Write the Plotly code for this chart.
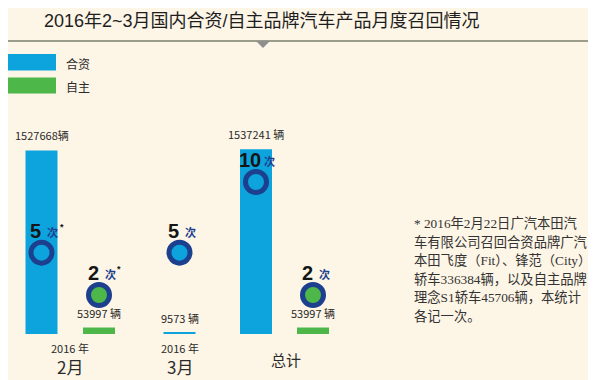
import plotly.graph_objects as go

# ---------------- data ----------------
periods = ["2月", "3月", "总计"]
period_years = ["2016 年", "2016 年", ""]
jv_units = [1527668, 9573, 1537241]          # 合资 recalled vehicles
own_units = [53997, None, 53997]             # 自主 recalled vehicles
jv_counts = [5, 5, 10]                       # 合资 recall counts (次)
own_counts = [2, None, 2]                    # 自主 recall counts (次)
jv_unit_labels = ["1527668辆", "9573 辆", "1537241 辆"]
own_unit_labels = ["53997 辆", None, "53997 辆"]
count_star = [True, False, False]            # footnote marker on Feb counts
legend_names = ["合资", "自主"]
title = "2016年2~3月国内合资/自主品牌汽车产品月度召回情况"
footnote = [
    "* 2016年2月22日广汽本田汽",
    "车有限公司召回合资品牌广汽",
    "本田飞度（Fit）、锋范（City）",
    "轿车336384辆，以及自主品牌",
    "理念S1轿车45706辆，本统计",
    "各记一次。",
]

# ---------------- layout config (positions / styles) ----------------
W, H = 596, 380
OFF = 8            # page body margin: figure drawn 8px in from the window corner
BG = "#FDF5E6"
BLUE = "#0DA3DD"
GREEN = "#4DB74A"
NAVY = "#1C3F8E"
TXT = "#2A2A2A"
CJK = "Noto Sans CJK SC"
jv_x = [41.5, 179.5, 256]
own_x = [99, None, 313]
group_x = [70, 180, 286]
BAR_W = 32
BASE_PX = 334


def py(p):
    """window pixel row -> paper y"""
    return 1 - (p - OFF) / H


fig = go.Figure()

# bars
fig.add_trace(go.Bar(x=jv_x, y=jv_units, width=BAR_W, marker=dict(color=BLUE, line_width=0),
                     name=legend_names[0], hoverinfo="skip"))
ox = [x for x, v in zip(own_x, own_units) if v is not None]
ov = [v for v in own_units if v is not None]
fig.add_trace(go.Bar(x=ox, y=ov, width=BAR_W, marker=dict(color=GREEN, line_width=0),
                     name=legend_names[1], hoverinfo="skip"))

# count circles (secondary axis encodes recall counts)
fig.add_trace(go.Scatter(x=jv_x, y=jv_counts, yaxis="y2", mode="markers",
                         marker=dict(size=21, color=BLUE, line=dict(color=NAVY, width=5)),
                         cliponaxis=False, hoverinfo="skip"))
oc = [c for c in own_counts if c is not None]
ocx = [x for x, c in zip(own_x, own_counts) if c is not None]
fig.add_trace(go.Scatter(x=ocx, y=oc, yaxis="y2", mode="markers",
                         marker=dict(size=21, color=GREEN, line=dict(color=NAVY, width=5)),
                         cliponaxis=False, hoverinfo="skip"))

ann = []


def txt(x, y, t, size, family=CJK, color=TXT, xanchor="center"):
    ann.append(dict(x=x, xref="x", y=py(y), yref="paper", text=t, showarrow=False,
                    xanchor=xanchor, yanchor="middle", font=dict(family=family, size=size, color=color)))


# title
txt(262, 21, title, 18, family="Liberation Sans, " + CJK, color="#1E1E1E")


def unit_label(x, v, t):
    ann.append(dict(x=x, y=v, xref="x", yref="y", text=t, showarrow=False, xanchor="center",
                    yanchor="bottom", yshift=5, font=dict(family=CJK, size=11, color=TXT)))


def count_label(x, c, star):
    ann.append(dict(x=x, y=c, xref="x", yref="y2", text="<b>%d</b>" % c, showarrow=False,
                    xanchor="center", yanchor="middle",
                    xshift=-6, yshift=22, font=dict(family="Liberation Sans", size=20, color="#151515")))
    ann.append(dict(x=x, y=c, xref="x", yref="y2", text="<b>次</b>", showarrow=False,
                    xanchor="center", yanchor="middle",
                    xshift=(13 if c >= 10 else 11), yshift=21,
                    font=dict(family=CJK, size=11, color=NAVY)))
    if star:
        ann.append(dict(x=x, y=c, xref="x", yref="y2", text="<b>*</b>", showarrow=False,
                        xanchor="center", yanchor="middle",
                        xshift=20, yshift=26, font=dict(family="Liberation Sans", size=9, color="#151515")))


for i in range(len(periods)):
    unit_label(jv_x[i], jv_units[i], jv_unit_labels[i])
    count_label(jv_x[i], jv_counts[i], count_star[i])
    if own_units[i] is not None:
        unit_label(own_x[i], own_units[i], own_unit_labels[i])
    if own_counts[i] is not None:
        count_label(own_x[i], own_counts[i], count_star[i])
    if period_years[i]:
        txt(group_x[i], 348, period_years[i], 11)
        txt(group_x[i], 366, periods[i], 17)
    else:
        txt(group_x[i], 359, periods[i], 15)

# legend texts
txt(64, 63, legend_names[0], 12, xanchor="left")
txt(64, 86.5, legend_names[1], 12, xanchor="left")

# footnote
for k, line in enumerate(footnote):
    txt(412, 223 + k * 18.6, line, 13.3, family="Liberation Serif, " + CJK, color="#333333", xanchor="left")

shapes = [
    dict(type="line", xref="x", yref="paper", x0=5, x1=590, y0=py(41), y1=py(41),
         line=dict(color="#9C9C8B", width=2)),
    dict(type="path", xref="x", yref="paper",
         path="M 256 %f L 270 %f L 263 %f Z" % (py(41), py(41), py(48)),
         fillcolor="#8F8F8F", line=dict(width=0)),
    dict(type="rect", xref="x", yref="paper", x0=7, x1=56, y0=py(54), y1=py(70.5),
         fillcolor=BLUE, line=dict(width=0)),
    dict(type="rect", xref="x", yref="paper", x0=7, x1=56, y0=py(77.5), y1=py(93.5),
         fillcolor=GREEN, line=dict(width=0)),
]

# plot area: top at window row OFF, bottom (value 0) at window row BASE_PX
dom_bottom = (H - (BASE_PX - OFF)) / H
fig.update_layout(
    width=W, height=H, margin=dict(l=0, r=0, t=0, b=0),
    paper_bgcolor=BG, plot_bgcolor=BG, showlegend=False, barmode="overlay",
    xaxis=dict(range=[OFF, W + OFF], visible=False, fixedrange=True),
    yaxis=dict(range=[0, 2713300], domain=[dom_bottom, 1], visible=False, fixedrange=True),
    yaxis2=dict(range=[-0.761, 22.319], overlaying="y", visible=False, fixedrange=True),
    annotations=ann, shapes=shapes,
)

fig.write_html("out.html")
